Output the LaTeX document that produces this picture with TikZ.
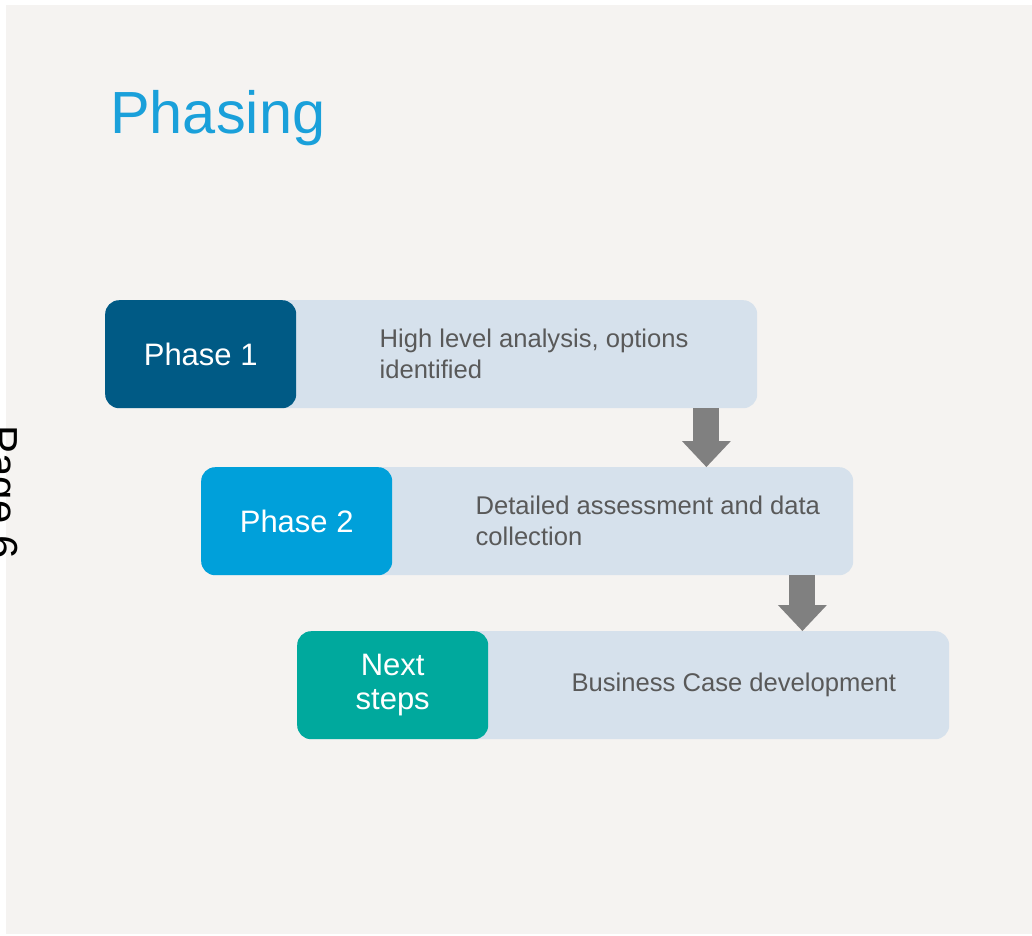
\documentclass[tikz,border=0pt]{standalone}
\usepackage{fontspec}
\setmainfont{Liberation Sans}
\usetikzlibrary{positioning,arrows.meta}
\definecolor{pagebg}{HTML}{F5F3F1}
\definecolor{titleblue}{HTML}{1AA0DA}
\definecolor{phaseone}{HTML}{005A85}
\definecolor{phasetwo}{HTML}{00A0DA}
\definecolor{phasenext}{HTML}{00A99D}
\definecolor{barfill}{HTML}{D6E1EC}
\definecolor{notegray}{HTML}{595959}
\definecolor{flowgray}{HTML}{808080}
\tikzset{
    phasebar/.style={fill=barfill, rounded corners=14pt, minimum width=652pt, minimum height=108pt, inner sep=0pt, anchor=north west},
    phasebox/.style={fill=#1, rounded corners=14pt, minimum width=191pt, minimum height=108pt, inner sep=0pt, text=white, align=center, font=\fontsize{31}{34}\selectfont, anchor=west},
    phasenote/.style={inner sep=0pt, text=notegray, align=left, font=\fontsize{25.6}{31}\selectfont},
    phaseflow/.style={draw=flowgray, line width=26pt, -{Triangle[length=26pt,width=49pt,line width=0pt,fill=flowgray]}}
}
\begin{document}
\begin{tikzpicture}[x=1pt,y=-1pt]
        \useasboundingbox (0,0) rectangle (1032,935);
        \fill[white] (0,0) rectangle (1032,935);
        \fill[pagebg] (6,5) rectangle (1032,934);
        \node[anchor=base west, inner sep=0pt, text=titleblue, font=\fontsize{59.5}{60}\selectfont] (title) at (110,133) {Phasing};
        \node[rotate=-90, anchor=north, inner sep=0pt, font=\fontsize{42}{42}\selectfont] (pagenum) at (18,492) {Page 6};
        \node[phasebar] (bar1) at (105,300) {};
        \node[phasebox=phaseone] (ph1) at (bar1.west) {Phase 1};
        \node[phasenote, right=83pt of ph1] (note1) {High level analysis, options\\identified};
        \node[phasebar] (bar2) at (201,467) {};
        \node[phasebox=phasetwo] (ph2) at (bar2.west) {Phase 2};
        \node[phasenote, right=83pt of ph2] (note2) {Detailed assessment and data\\collection};
        \node[phasebar] (bar3) at (297,631) {};
        \node[phasebox=phasenext] (ph3) at (bar3.west) {Next\\steps};
        \node[phasenote, right=83pt of ph3] (note3) {Business Case development};
        \coordinate (f1) at ([xshift=-51pt]bar1.south east);
        \coordinate (f2) at ([xshift=-51pt]bar2.south east);
        \draw[phaseflow] (f1) -- (f1 |- bar2.north);
        \draw[phaseflow] (f2) -- (f2 |- bar3.north);
    \end{tikzpicture}
\end{document}
